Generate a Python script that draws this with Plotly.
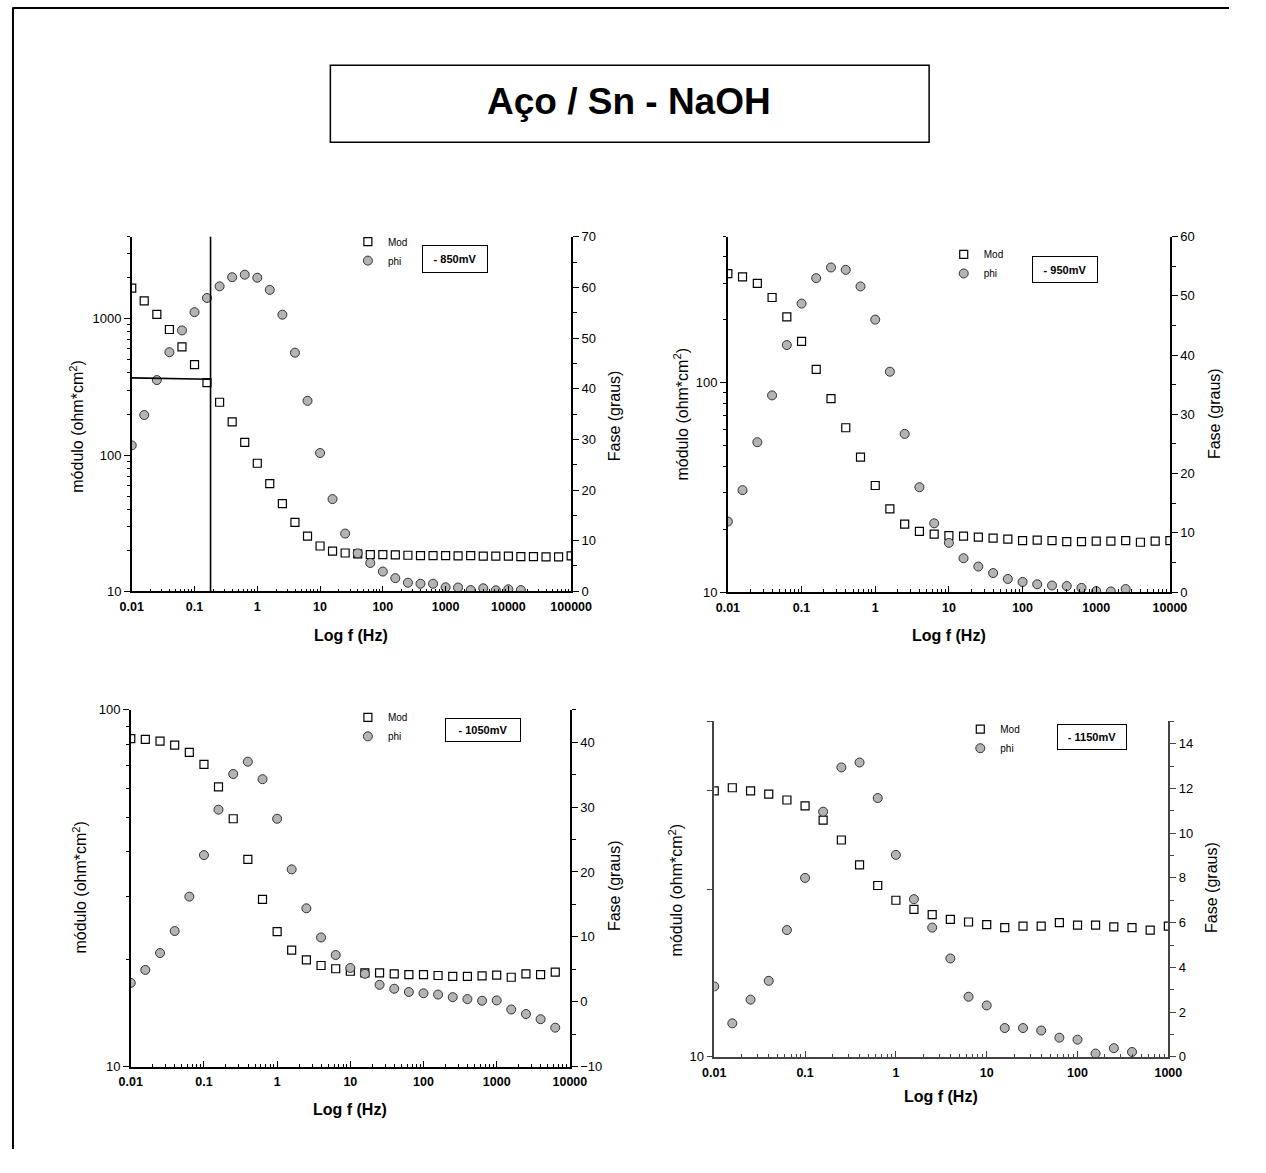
import math
import plotly.graph_objects as go

# Figure size; the page adds an 8 px body margin around it
W, H = 1250, 1157
PAGE_MARGIN = 8
FONT = "Liberation Sans, Arial, sans-serif"

# Measurement frequencies (Hz), five points per decade
FREQ = [0.01, 0.0158, 0.0251, 0.0398, 0.0631, 0.1, 0.158, 0.251, 0.398, 0.631,
        1.0, 1.58, 2.51, 3.98, 6.31, 10.0, 15.8, 25.1, 39.8, 63.1,
        100.0, 158.0, 251.0, 398.0, 631.0, 1000.0, 1580.0, 2510.0, 3980.0, 6310.0,
        10000.0, 15800.0, 25100.0, 39800.0, 63100.0, 100000.0]

# |Z| (ohm*cm2) and phase (graus) at each potential
MOD_850 = [1680, 1350, 1076, 834, 621, 460, 340, 244, 175, 124,
           87, 61.7, 44, 32, 25.4, 21.5, 19.7, 19.1, 18.8, 18.6,
           18.6, 18.5, 18.4, 18.3, 18.3, 18.3, 18.2, 18.3, 18.1, 18.1,
           18.1, 18.0, 18.0, 17.9, 17.9, 18.2]
PHI_850 = [28.8, 34.8, 41.7, 47.2, 51.5, 55.1, 57.9, 60.2, 62.0, 62.5,
           61.9, 59.5, 54.6, 47.1, 37.6, 27.3, 18.2, 11.4, 7.5, 5.6,
           3.9, 2.6, 1.7, 1.5, 1.5, 0.8, 0.75, 0.25, 0.6, 0.2,
           0.4, 0.25]

MOD_950 = [333, 321, 299, 256, 207, 158, 116, 84, 61, 44.2,
           32.3, 25, 21.1, 19.5, 18.9, 18.6, 18.5, 18.3, 18.1, 17.9,
           17.6, 17.7, 17.6, 17.4, 17.4, 17.5, 17.5, 17.6, 17.3, 17.5,
           17.6]
PHI_950 = [11.9, 17.2, 25.3, 33.2, 41.7, 48.7, 53.0, 54.8, 54.4, 51.6,
           46.0, 37.2, 26.7, 17.7, 11.6, 8.3, 5.7, 4.3, 3.2, 2.2,
           1.7, 1.3, 1.1, 1.0, 0.7, 0.15, 0.1, 0.5]

MOD_1050 = [83, 82.6, 81.7, 79.6, 76, 70.3, 60.8, 49.5, 38.1, 29.4,
            23.9, 21.2, 19.9, 19.2, 18.8, 18.5, 18.3, 18.3, 18.2, 18.1,
            18.1, 18.0, 17.9, 17.9, 17.95, 18.05, 17.8, 18.2, 18.1, 18.4]
PHI_1050 = [2.9, 4.9, 7.5, 10.9, 16.2, 22.6, 29.6, 35.1, 37.0, 34.3,
            28.2, 20.4, 14.4, 9.9, 7.2, 5.2, 4.3, 2.6, 2.0, 1.5,
            1.3, 1.1, 0.7, 0.4, 0.15, 0.2, -1.2, -1.9, -2.7, -4.0]

MOD_1150 = [30.0, 30.4, 30.0, 29.6, 28.9, 28.2, 26.6, 24.5, 22.1, 20.3,
            19.1, 18.4, 18.0, 17.65, 17.46, 17.27, 17.06, 17.16, 17.16, 17.41,
            17.23, 17.23, 17.11, 17.06, 16.88, 17.16]
PHI_1150 = [3.15, 1.5, 2.56, 3.4, 5.67, 8.0, 10.96, 12.94, 13.16, 11.57,
            9.03, 7.05, 5.78, 4.4, 2.69, 2.3, 1.29, 1.29, 1.18, 0.86,
            0.77, 0.15, 0.39, 0.22]

POTENTIALS = ["- 850mV", "- 950mV", "- 1050mV", "- 1150mV"]
TITLE = "Aço / Sn - NaOH"

# Axis extents and ticks
X_MAX = [100000, 10000, 10000, 1000]
MOD_RANGE = [(10, 4000), (10, 500), (10, 100), (10, 40)]
PHI_RANGE = [(0, 70), (0, 60), (-10, 45), (0, 15)]
PHI_STEP = [10, 10, 10, 2]
X_TICKS = [0.01, 0.1, 1, 10, 100, 1000, 10000, 100000]
X_LABELS = ["0.01", "0.1", "1", "10", "100", "1000", "10000", "100000"]
MOD_TICKS = [[10, 100, 1000], [10, 100], [10, 100], [10]]
MOD_LABELS = [["10", "100", "1000"], ["10", "100"], ["10", "100"], ["10"]]

# Equivalent-circuit guide lines on the -850 mV plot
GUIDE_F = 0.18
GUIDE_Z = (368, 360)

# Plot-area boxes in page pixels: left, top, right, bottom
BOXES = [(131, 240.7, 582.3, 600.0),
         (743.3, 240.7, 1197.3, 600.7),
         (130.0, 720.0, 581.0, 1081.5),
         (729.3, 731.7, 1195.7, 1071.7)]

series = [(MOD_850, PHI_850), (MOD_950, PHI_950), (MOD_1050, PHI_1050), (MOD_1150, PHI_1150)]


def px(x):
    return (x - PAGE_MARGIN) / W


def py(y):
    return 1 - (y - PAGE_MARGIN) / H


def minor_log(lo, hi):
    vals = []
    d = 10.0 ** math.floor(math.log10(lo))
    while d < hi * 1.0001:
        for k in range(2, 10):
            v = k * d
            if lo < v <= hi * 1.0001:
                vals.append(v)
        d *= 10
    return vals


fig = go.Figure()
layout = dict(
    width=W, height=H, margin=dict(l=0, r=0, t=0, b=0),
    paper_bgcolor="white", plot_bgcolor="white",
    font=dict(family=FONT, color="black", size=12),
    shapes=[], annotations=[],
)

# legend anchor (left, top), label box (cx, cy, w, h), axis title centres
legend_pos = [(353, 231), (965, 244), (353, 713), (982, 725)]
box_pos = [(463, 263, 62, 24), (1090, 274, 62, 23), (492, 740, 72, 20), (1117, 748, 66, 22)]
title_pos = [((356, 645), (75, 433), (627, 422)),
             ((970, 645), (695, 420), (1243, 420)),
             ((355, 1125), (78, 900), (627, 898)),
             ((962, 1112), (690, 902), (1240, 900))]

for i, (mod, phi) in enumerate(series):
    n = i + 1
    xa = "x" if n == 1 else f"x{n}"
    ya = f"y{2 * n - 1}" if n > 1 else "y"
    yb = f"y{2 * n}"
    left, top, right, bottom = BOXES[i]
    axis_color = "black" if i < 3 else "#444444"
    leg = "legend" if n == 1 else f"legend{n}"

    fig.add_trace(go.Scatter(
        x=FREQ[:len(mod)], y=mod, mode="markers", name="Mod",
        xaxis=xa, yaxis=ya, legend=leg,
        marker=dict(symbol="square", size=8, color="white",
                    line=dict(color="black", width=1.2)),
    ))
    fig.add_trace(go.Scatter(
        x=FREQ[:len(phi)], y=phi, mode="markers", name="phi",
        xaxis=xa, yaxis=yb, legend=leg,
        marker=dict(symbol="circle", size=9, color="#b4b4b4",
                    line=dict(color="#333333", width=1)),
    ))

    xmax = X_MAX[i]
    xt = [v for v in X_TICKS if v <= xmax]
    xl = X_LABELS[:len(xt)]
    layout["xaxis" if n == 1 else f"xaxis{n}"] = dict(
        type="log", range=[-2, math.log10(xmax)],
        domain=[px(left), px(right)], anchor=ya,
        showline=True, linecolor=axis_color, linewidth=1.5, mirror=False,
        showgrid=False, zeroline=False,
        ticks="inside", ticklen=6, tickwidth=1.2, tickcolor=axis_color,
        tickvals=xt, ticktext=xl, ticklabelstandoff=3,
        tickfont=dict(family=FONT, size=12.5, weight="bold"),
        minor=dict(tickvals=minor_log(0.01, xmax), ticks="inside", ticklen=3,
                   tickwidth=1, tickcolor=axis_color, showgrid=False),
    )
    lo, hi = MOD_RANGE[i]
    single = len(MOD_TICKS[i]) == 1
    layout["yaxis" if n == 1 else f"yaxis{2 * n - 1}"] = dict(
        type="log", range=[math.log10(lo), math.log10(hi)],
        domain=[py(bottom), py(top)], anchor=xa, side="left",
        showline=True, linecolor=axis_color, linewidth=1.5,
        showgrid=False, zeroline=False,
        ticks="outside", ticklen=6, tickwidth=1.2, tickcolor=axis_color,
        tickvals=MOD_TICKS[i], ticktext=MOD_LABELS[i],
        tickfont=dict(family=FONT, size=13),
        minor=dict(tickvals=[v for v in minor_log(lo, hi) if not single or v % 10 == 0],
                   ticks="outside", ticklen=6 if single else 3,
                   tickwidth=1.2 if single else 1, tickcolor=axis_color, showgrid=False),
    )
    plo, phi_hi = PHI_RANGE[i]
    step = PHI_STEP[i]
    layout[f"yaxis{2 * n}"] = dict(
        range=[plo, phi_hi], overlaying=ya, anchor=xa, side="right",
        showline=True, linecolor=axis_color, linewidth=1.5,
        showgrid=False, zeroline=False,
        ticks="outside", ticklen=6, tickwidth=1.2, tickcolor=axis_color,
        tick0=plo, dtick=step,
        tickfont=dict(family=FONT, size=13),
        minor=dict(tick0=plo, dtick=step / 2, ticks="outside", ticklen=4,
                   tickwidth=1, tickcolor=axis_color, showgrid=False),
    )

    lx, ly = legend_pos[i]
    layout[leg] = dict(
        x=px(lx), y=py(ly), xanchor="left", yanchor="top",
        bgcolor="rgba(0,0,0,0)", borderwidth=0,
        font=dict(family=FONT, size=10), itemsizing="trace",
        tracegroupgap=0, itemwidth=30,
    )

    bx, by, bw, bh = box_pos[i]
    layout["annotations"].append(dict(
        xref="paper", yref="paper", x=px(bx), y=py(by), xanchor="center", yanchor="middle",
        text=f"<b>{POTENTIALS[i]}</b>", showarrow=False, width=bw, height=bh,
        bordercolor="black", borderwidth=1, borderpad=1, bgcolor="white",
        font=dict(family=FONT, size=11),
    ))

    (tx, ty), (mx, my), (fx, fy) = title_pos[i]
    layout["annotations"].append(dict(
        xref="paper", yref="paper", x=px(tx), y=py(ty), xanchor="center", yanchor="middle",
        text="<b>Log f (Hz)</b>", showarrow=False, font=dict(family=FONT, size=16)))
    layout["annotations"].append(dict(
        xref="paper", yref="paper", x=px(mx), y=py(my), xanchor="center", yanchor="middle",
        text="módulo (ohm*cm<sup>2</sup>)", textangle=-90, showarrow=False,
        font=dict(family=FONT, size=16)))
    layout["annotations"].append(dict(
        xref="paper", yref="paper", x=px(fx), y=py(fy), xanchor="center", yanchor="middle",
        text="Fase (graus)", textangle=-90, showarrow=False,
        font=dict(family=FONT, size=16)))

# Guide lines drawn on the -850 mV impedance axes
layout["shapes"].append(dict(type="line", xref="x", yref="y domain",
                             x0=GUIDE_F, x1=GUIDE_F, y0=0, y1=1,
                             line=dict(color="black", width=1.6)))
layout["shapes"].append(dict(type="line", xref="x", yref="y",
                             x0=0.01, x1=GUIDE_F, y0=GUIDE_Z[0], y1=GUIDE_Z[1],
                             line=dict(color="black", width=1.6)))

# Title box and outer frame
layout["shapes"].append(dict(type="rect", xref="paper", yref="paper",
                             x0=px(335), x1=px(950), y0=py(67), y1=py(145),
                             line=dict(color="black", width=1.5)))
layout["shapes"].append(dict(type="line", xref="paper", yref="paper",
                             x0=px(8.5), x1=1, y0=py(9), y1=py(9),
                             line=dict(color="black", width=2)))
layout["shapes"].append(dict(type="line", xref="paper", yref="paper",
                             x0=px(9), x1=px(9), y0=py(8.5), y1=0,
                             line=dict(color="black", width=2)))
layout["annotations"].append(dict(
    xref="paper", yref="paper", x=px(642), y=py(104), xanchor="center", yanchor="middle",
    text=f"<b>{TITLE}</b>", showarrow=False, font=dict(family=FONT, size=37)))

fig.update_layout(**layout)
fig.write_html("out.html")
